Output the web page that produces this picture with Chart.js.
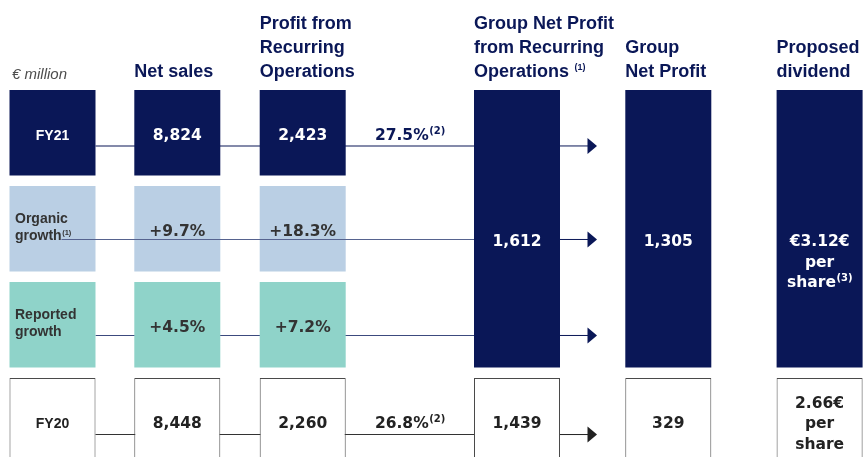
<!DOCTYPE html>
<html>
<head>
<meta charset="utf-8">
<script src="https://cdn.jsdelivr.net/npm/chart.js@4.4.1/dist/chart.umd.min.js"></script>
<style>
  html, body { margin: 0; padding: 0; background: #fff; overflow: hidden; }
  #wrap { width: 864px; height: 457px; }
</style>
</head>
<body>
<div id="wrap"><canvas id="kpiChart" width="864" height="457"></canvas></div>
<script>
// table rows / columns
const rows = ['FY21', 'Organic growth', 'Reported growth', 'FY20'];
const columns = ['Net sales', 'Profit from Recurring Operations', 'Group Net Profit from Recurring Operations', 'Group Net Profit', 'Proposed dividend'];

// € million, growth rows in %
const netSales = [8824, 9.7, 4.5, 8448];
const profitRecurring = [2423, 18.3, 7.2, 2260];
const recurringMargin = [27.5, 26.8];        // FY21, FY20
const groupNetRecurring = [1612, 1439];      // FY21, FY20
const groupNetProfit = [1305, 329];          // FY21, FY20
const dividendLabels = ['€3.12€', '2.66€'];  // per share, FY21, FY20

const headerLines = [
    ['Net sales'],
    ['Profit from', 'Recurring', 'Operations'],
    ['Group Net Profit', 'from Recurring', 'Operations'],
    ['Group', 'Net Profit'],
    ['Proposed', 'dividend']
];

// layout / styles
const NAVY = '#0a1757';
const LIGHT_BLUE = '#bacfe4';
const MINT = '#8fd3c9';
const colCenter = [52.5, 177.3, 302.7, 517, 668.3, 819.6]; // row label box + 5 columns
const BOX_W = 86;
const ROW_FILL = 0.89;                          // share of a row taken by a box
const lineOffset = [0.583, 0.557, 0.557, 0.589]; // connector line inside each row
const ROW_PX = 96;
const TOP_PX = 90;
const CHART_H = 457;

const SANS = '"Liberation Sans", Arial, sans-serif';
const WIDE = '"DejaVu Sans", Verdana, sans-serif';
const VALUE_FONT = 'bold 15.5px ' + WIDE;
const SUP_FONT = 'bold 10px ' + WIDE;

function rowBoxes(row, cols) {
    return cols.map(c => ({ x: colCenter[c], y: [row, row + ROW_FILL] }));
}

function fmtMoney(v) { return v.toLocaleString('en-US'); }
function fmtGrowth(v) { return '+' + v.toFixed(1) + '%'; }
function fmtRow(v, row) { return (row === 1 || row === 2) ? fmtGrowth(v) : fmtMoney(v); }

// text with optional superscript
function txt(ctx, str, x, y, font, color, align, sup, supFont, rise) {
    ctx.save();
    ctx.font = font;
    const w = ctx.measureText(str).width;
    let sw = 0;
    if (sup) {
        ctx.font = supFont;
        sw = ctx.measureText(sup).width;
    }
    let x0 = x;
    if (align === 'center') x0 = x - (w + sw) / 2;
    ctx.fillStyle = color;
    ctx.textAlign = 'left';
    ctx.textBaseline = 'alphabetic';
    ctx.font = font;
    ctx.fillText(str, x0, y);
    if (sup) {
        ctx.font = supFont;
        ctx.fillText(sup, x0 + w + 0.5, y - (rise || 6));
    }
    ctx.restore();
}

function hLine(ctx, x1, x2, y, color, width) {
    ctx.save();
    ctx.strokeStyle = color;
    ctx.lineWidth = width;
    ctx.beginPath();
    ctx.moveTo(x1, y);
    ctx.lineTo(x2, y);
    ctx.stroke();
    ctx.restore();
}

function arrow(ctx, x1, y, color) {
    hLine(ctx, x1, x1 + 28, y, color, 1);
    ctx.save();
    ctx.fillStyle = color;
    ctx.beginPath();
    ctx.moveTo(x1 + 27.5, y - 8);
    ctx.lineTo(x1 + 37, y);
    ctx.lineTo(x1 + 27.5, y + 8);
    ctx.closePath();
    ctx.fill();
    ctx.restore();
}

function boxOf(chart, ds, i) {
    const el = chart.getDatasetMeta(ds).data[i];
    const p = el.getProps(['x', 'y', 'base', 'width'], true);
    return { left: p.x - p.width / 2, right: p.x + p.width / 2, cx: p.x,
             top: Math.min(p.y, p.base), bottom: Math.max(p.y, p.base) };
}

const kpiText = {
    id: 'kpiText',
    beforeDatasetsDraw(chart) {
        const ctx = chart.ctx;
        const ys = chart.scales.y;
        const tall = boxOf(chart, 3, 0);
        const label0 = boxOf(chart, 0, 0);
        [0, 2, 3].forEach(r => {
            const y = ys.getPixelForValue(r + lineOffset[r]);
            const color = r === 3 ? '#333' : (r === 0 ? NAVY : '#3c4a7e');
            hLine(ctx, label0.right, tall.left, y, color, 1.1);
        });
    },
    afterDatasetsDraw(chart) {
        const ctx = chart.ctx;
        const ys = chart.scales.y;
        const tall = boxOf(chart, 3, 0);
        const label0 = boxOf(chart, 0, 0);
        const lineY = r => ys.getPixelForValue(r + lineOffset[r]);
        const rowMid = r => ys.getPixelForValue(r + ROW_FILL / 2);

        // organic line runs over the light boxes
        hLine(ctx, label0.cx + 9, tall.left, lineY(1), '#56638f', 1.1);

        // arrows to group net profit
        [0, 1, 2].forEach(r => arrow(ctx, tall.right, lineY(r), NAVY));
        arrow(ctx, tall.right, lineY(3), '#222');

        // headers
        txt(ctx, '€ million', 12, 79, 'italic 15px ' + SANS, '#4d4d4d', 'left');
        headerLines.forEach((lines, c) => {
            const left = colCenter[c + 1] - BOX_W / 2;
            lines.forEach((line, k) => {
                const y = 77 - 24 * (lines.length - 1 - k);
                const sup = (c === 2 && k === lines.length - 1) ? '(1)' : null;
                txt(ctx, line + (sup ? ' ' : ''), left, y, 'bold 18px ' + SANS, NAVY, 'left', sup, 'bold 9px ' + SANS, 7);
            });
        });

        // row labels
        const rowColor = [ '#fff', '#333', '#333', '#222' ];
        txt(ctx, 'FY21', colCenter[0], rowMid(0) + 7, 'bold 14px ' + SANS, '#fff', 'center');
        txt(ctx, 'FY20', colCenter[0], rowMid(3) + 7, 'bold 14px ' + SANS, '#222', 'center');
        txt(ctx, 'Organic', 15, rowMid(1) - 5.6, 'bold 14px ' + SANS, '#333', 'left');
        txt(ctx, 'growth', 15, rowMid(1) + 11.4, 'bold 14px ' + SANS, '#333', 'left', '(1)', 'bold 7.5px ' + SANS, 5);
        txt(ctx, 'Reported', 15, rowMid(2) - 5.6, 'bold 14px ' + SANS, '#333', 'left');
        txt(ctx, 'growth', 15, rowMid(2) + 11.4, 'bold 14px ' + SANS, '#333', 'left');

        // net sales / profit from recurring operations
        rows.forEach((r, i) => {
            const y = rowMid(i) + 7.5;
            txt(ctx, fmtRow(netSales[i], i), colCenter[1], y, VALUE_FONT, rowColor[i], 'center');
            txt(ctx, fmtRow(profitRecurring[i], i), colCenter[2], y, VALUE_FONT, rowColor[i], 'center');
        });

        // margin between profit box and group net profit
        const gapMid = (colCenter[2] + BOX_W / 2 + tall.left) / 2;
        txt(ctx, recurringMargin[0].toFixed(1) + '%', gapMid, rowMid(0) + 7.5, VALUE_FONT, NAVY, 'center', '(2)', SUP_FONT, 6);
        txt(ctx, recurringMargin[1].toFixed(1) + '%', gapMid, rowMid(3) + 7.5, VALUE_FONT, '#222', 'center', '(2)', SUP_FONT, 6);

        // FY21 tall boxes, aligned with the organic line
        const yTall = lineY(1) + 7;
        txt(ctx, fmtMoney(groupNetRecurring[0]), colCenter[3], yTall, VALUE_FONT, '#fff', 'center');
        txt(ctx, fmtMoney(groupNetProfit[0]), colCenter[4], yTall, VALUE_FONT, '#fff', 'center');
        txt(ctx, dividendLabels[0], colCenter[5], yTall, VALUE_FONT, '#fff', 'center');
        txt(ctx, 'per', colCenter[5], yTall + 20.5, VALUE_FONT, '#fff', 'center');
        txt(ctx, 'share', colCenter[5], yTall + 41, VALUE_FONT, '#fff', 'center', '(3)', SUP_FONT, 6);

        // FY20 right side
        const y20 = rowMid(3) + 7.5;
        txt(ctx, fmtMoney(groupNetRecurring[1]), colCenter[3], y20, VALUE_FONT, '#222', 'center');
        txt(ctx, fmtMoney(groupNetProfit[1]), colCenter[4], y20, VALUE_FONT, '#222', 'center');
        txt(ctx, dividendLabels[1], colCenter[5], y20 - 20.5, VALUE_FONT, '#222', 'center');
        txt(ctx, 'per', colCenter[5], y20, VALUE_FONT, '#222', 'center');
        txt(ctx, 'share', colCenter[5], y20 + 20.5, VALUE_FONT, '#222', 'center');
    }
};

const common = { barThickness: BOX_W, grouped: false, inflateAmount: 0, borderWidth: 0 };

const ctx = document.getElementById('kpiChart').getContext('2d');

let kpiChart = new Chart(ctx, {
    type: 'bar',
    data: {
        datasets: [
            Object.assign({ label: rows[0], data: rowBoxes(0, [0, 1, 2]), backgroundColor: NAVY }, common),
            Object.assign({ label: rows[1], data: rowBoxes(1, [0, 1, 2]), backgroundColor: LIGHT_BLUE }, common),
            Object.assign({ label: rows[2], data: rowBoxes(2, [0, 1, 2]), backgroundColor: MINT }, common),
            Object.assign({ label: 'FY21 results', data: [3, 4, 5].map(c => ({ x: colCenter[c], y: [0, 2 + ROW_FILL] })), backgroundColor: NAVY }, common),
            Object.assign({}, common, { label: rows[3], data: rowBoxes(3, [0, 1, 2, 3, 4, 5]), backgroundColor: '#fff',
                borderColor: '#4a4a4a', borderWidth: 1, borderSkipped: false })
        ]
    },
    options: {
        responsive: false,
        animation: false,
        layout: { padding: 0 },
        plugins: { legend: { display: false }, tooltip: { enabled: false } },
        scales: {
            x: { type: 'linear', display: false, offset: false, min: 0, max: 864 },
            y: { type: 'linear', display: false, reverse: true,
                 min: -TOP_PX / ROW_PX, max: (CHART_H - TOP_PX) / ROW_PX }
        }
    },
    plugins: [kpiText]
});
</script>
</body>
</html>
